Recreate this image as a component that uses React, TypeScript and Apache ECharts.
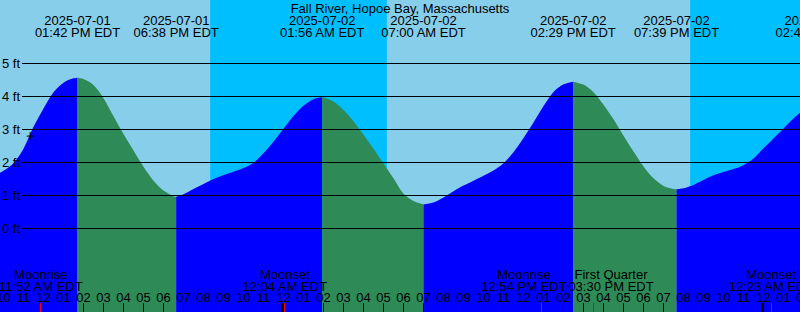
import React, { useEffect, useRef } from 'react';
import * as echarts from 'echarts';

const TITLE = 'Fall River, Hopoe Bay, Massachusetts';

// Tide curve (local time EDT, "MM-DD HH:MM"), heights in ft
const tideTimes = [
  '07-01 09:30', '07-01 10:00', '07-01 10:30', '07-01 11:00', '07-01 11:30', '07-01 12:00',
  '07-01 12:30', '07-01 13:00', '07-01 13:30', '07-01 13:42', '07-01 14:00', '07-01 14:30',
  '07-01 15:00', '07-01 15:30', '07-01 16:00', '07-01 16:30', '07-01 17:00', '07-01 17:30',
  '07-01 18:00', '07-01 18:30', '07-01 18:38', '07-01 19:00', '07-01 19:30', '07-01 20:00',
  '07-01 20:30', '07-01 21:00', '07-01 21:30', '07-01 22:00', '07-01 22:30', '07-01 23:00',
  '07-01 23:30', '07-02 00:00', '07-02 00:30', '07-02 01:00', '07-02 01:30', '07-02 01:56',
  '07-02 02:00', '07-02 02:30', '07-02 03:00', '07-02 03:30', '07-02 04:00', '07-02 04:30',
  '07-02 05:00', '07-02 05:30', '07-02 06:00', '07-02 06:30', '07-02 07:00', '07-02 07:30',
  '07-02 08:00', '07-02 08:30', '07-02 09:00', '07-02 09:30', '07-02 10:00', '07-02 10:30',
  '07-02 11:00', '07-02 11:30', '07-02 12:00', '07-02 12:30', '07-02 13:00', '07-02 13:30',
  '07-02 14:00', '07-02 14:29', '07-02 15:00', '07-02 15:30', '07-02 16:00', '07-02 16:30',
  '07-02 17:00', '07-02 17:30', '07-02 18:00', '07-02 18:30', '07-02 19:00', '07-02 19:30',
  '07-02 19:39', '07-02 20:00', '07-02 20:30', '07-02 21:00', '07-02 21:30', '07-02 22:00',
  '07-02 22:30', '07-02 23:00', '07-02 23:30', '07-03 00:00', '07-03 00:30', '07-03 01:00',
  '07-03 01:30', '07-03 02:00',
];
const tideHeights = [
  1.58, 1.75, 1.98, 2.42, 3.08, 3.64,
  4.13, 4.42, 4.55, 4.57, 4.53, 4.35,
  3.95, 3.40, 2.86, 2.36, 1.87, 1.45,
  1.15, 0.98, 0.96, 1.04, 1.20, 1.35,
  1.50, 1.62, 1.72, 1.83, 1.99, 2.28,
  2.63, 3.02, 3.41, 3.72, 3.92, 3.98,
  3.97, 3.85, 3.59, 3.25, 2.84, 2.42,
  1.97, 1.52, 1.05, 0.83, 0.73, 0.79,
  0.94, 1.13, 1.30, 1.45, 1.60, 1.76,
  1.98, 2.31, 2.74, 3.21, 3.71, 4.14,
  4.37, 4.45, 4.36, 4.13, 3.75, 3.31,
  2.81, 2.33, 1.88, 1.52, 1.29, 1.20,
  1.19, 1.22, 1.32, 1.47, 1.61, 1.71,
  1.80, 1.92, 2.12, 2.43, 2.73, 3.03,
  3.33, 3.60,
];

// High / low tide events
const tideEventAt = ['07-01 13:42', '07-01 18:38', '07-02 01:56', '07-02 07:00', '07-02 14:29', '07-02 19:39', '07-03 02:43'];
const tideEventDate = ['2025-07-01', '2025-07-01', '2025-07-02', '2025-07-02', '2025-07-02', '2025-07-02', '2025-07-03'];
const tideEventClock = ['01:42 PM EDT', '06:38 PM EDT', '01:56 AM EDT', '07:00 AM EDT', '02:29 PM EDT', '07:39 PM EDT', '02:43 AM EDT'];

// Night intervals (sunset -> sunrise)
const nightStart = ['07-01 20:20', '07-02 20:20'];
const nightEnd = ['07-02 05:10', '07-03 05:11'];

// Moon events
const moonAt = ['07-01 11:52', '07-02 00:04', '07-02 12:54', '07-02 15:30', '07-03 00:23'];
const moonName = ['Moonrise', 'Moonset', 'Moonrise', 'First Quarter', 'Moonset'];
const moonClock = ['11:52 AM EDT', '12:04 AM EDT', '12:54 PM EDT', '03:30 PM EDT', '12:23 AM EDT'];

// Day boundaries
const midnights = ['07-02 00:00', '07-03 00:00'];

// Hour ticks
const hourStart = '07-01 10:00';
const hourLabels = [
  '10', '11', '12', '01', '02', '03', '04', '05', '06', '07', '08', '09', '10', '11',
  '12', '01', '02', '03', '04', '05', '06', '07', '08', '09', '10', '11',
  '12', '01', '02', '03', '04', '05', '06', '07', '08', '09', '10', '11',
  '12', '01', '02',
];

// Gridlines (ft)
const gridFeet = [0, 1, 2, 3, 4, 5];

// Current time marker
const nowAt = '07-01 11:20';
const nowHeight = 2.8;

// View window
const X_MIN = 9.825;
const X_MAX = 49.825;
const Y_MAX = 228.5 / 33;
const Y_MIN = Y_MAX - 312 / 33;

const DAY = '#87CEEB';
const NIGHT = '#00BFFF';
const RISE = '#0000FF';
const FALL = '#2E8B57';
const FONT = '13px "Liberation Sans", Arial, sans-serif';
const MOON_LABEL_GAP = 87;

const toHours = (s: string) => {
  const [md, hm] = s.split(' ');
  const day = Number(md.split('-')[1]);
  const [h, m] = hm.split(':').map(Number);
  return (day - 1) * 24 + h + m / 60;
};

const txt = (text: string, x: number, y: number, align = 'center') => ({
  type: 'text',
  x,
  y,
  style: { text, font: FONT, fill: '#000', align, verticalAlign: 'middle' },
});

// push overlapping label centres apart so they keep a minimum gap
const spread = (xs: number[], gap: number) => {
  const out = xs.slice();
  for (let iter = 0; iter < 20; iter++) {
    let moved = false;
    for (let i = 0; i < out.length - 1; i++) {
      const d = out[i + 1] - out[i];
      if (d < gap) {
        const push = (gap - d) / 2;
        out[i] -= push;
        out[i + 1] += push;
        moved = true;
      }
    }
    if (!moved) break;
  }
  return out;
};

export default function App() {
  const ref = useRef<HTMLDivElement>(null);
  useEffect(() => {
    document.body.style.margin = '0';
    const chart = echarts.init(ref.current!, null, { renderer: 'svg' });

    const pts = tideTimes.map((t, i) => [toHours(t), tideHeights[i]]);
    const breaks = [0];
    tideEventAt.forEach((e) => {
      const idx = tideTimes.indexOf(e);
      if (idx > 0) breaks.push(idx);
    });
    breaks.push(pts.length - 1);
    const tideSeries: any[] = [];
    for (let s = 0; s < breaks.length - 1; s++) {
      const seg = pts.slice(breaks[s], breaks[s + 1] + 1);
      const rising = seg[seg.length - 1][1] > seg[0][1];
      tideSeries.push({
        type: 'line',
        data: seg,
        smooth: 0.3,
        showSymbol: false,
        silent: true,
        z: 2,
        lineStyle: { width: 0, opacity: 0 },
        areaStyle: { color: rising ? RISE : FALL, opacity: 1, origin: 'start' },
      });
    }

    const moonHours = moonAt.map(toHours);

    const option: any = {
      animation: false,
      backgroundColor: DAY,
      textStyle: { fontFamily: '"Liberation Sans", Arial, sans-serif' },
      grid: { left: 0, right: 0, top: 0, bottom: 0, show: true, backgroundColor: DAY, borderWidth: 0 },
      xAxis: { type: 'value', min: X_MIN, max: X_MAX, show: false },
      yAxis: { type: 'value', min: Y_MIN, max: Y_MAX, show: false },
      graphic: [
        {
          type: 'text',
          z: 100,
          x: 400,
          y: 8,
          style: { text: TITLE, font: FONT, fill: '#000', align: 'center', verticalAlign: 'middle' },
        },
      ],
      series: [
        {
          type: 'custom',
          z: 1,
          silent: true,
          clip: true,
          data: nightStart.map((s, i) => [toHours(s), toHours(nightEnd[i])]),
          renderItem: (params: any, api: any) => {
            const cs = params.coordSys;
            const x1 = api.coord([api.value(0), 0])[0];
            const x2 = api.coord([api.value(1), 0])[0];
            return { type: 'rect', shape: { x: x1, y: cs.y, width: x2 - x1, height: cs.height }, style: { fill: NIGHT } };
          },
        },
        ...tideSeries,
        {
          type: 'custom',
          z: 3,
          silent: true,
          data: gridFeet.map((v) => [X_MIN, v]),
          renderItem: (params: any, api: any) => {
            const cs = params.coordSys;
            const y = api.coord([X_MIN, api.value(1)])[1];
            return {
              type: 'group',
              children: [
                { type: 'line', shape: { x1: cs.x + 22, y1: y, x2: cs.x + cs.width, y2: y }, style: { stroke: '#000', lineWidth: 1 } },
                txt(`${gridFeet[params.dataIndex]} ft`, cs.x + 2, y, 'left'),
              ],
            };
          },
        },
        {
          type: 'custom',
          z: 4,
          silent: true,
          data: [[toHours(nowAt), nowHeight]],
          renderItem: (params: any, api: any) => {
            const p = api.coord([api.value(0), api.value(1)]);
            return {
              type: 'group',
              children: [
                { type: 'line', shape: { x1: p[0] - 3.5, y1: p[1], x2: p[0] + 3.5, y2: p[1] }, style: { stroke: '#000', lineWidth: 1 } },
                { type: 'line', shape: { x1: p[0], y1: p[1] - 4, x2: p[0], y2: p[1] + 4 }, style: { stroke: '#000', lineWidth: 1 } },
              ],
            };
          },
        },
        {
          type: 'custom',
          z: 5,
          silent: true,
          data: tideEventAt.map((t) => [toHours(t), 0]),
          renderItem: (params: any, api: any) => {
            const x = api.coord([api.value(0), 0])[0];
            const i = params.dataIndex;
            return {
              type: 'group',
              children: [txt(tideEventDate[i], x, 20), txt(tideEventClock[i], x, 32)],
            };
          },
        },
        {
          type: 'custom',
          z: 5,
          silent: true,
          data: hourLabels.map((_, i) => [toHours(hourStart) + i, 0]),
          renderItem: (params: any, api: any) => {
            const x = api.coord([api.value(0), 0])[0];
            return {
              type: 'group',
              children: [
                { type: 'line', shape: { x1: x, y1: 303, x2: x, y2: 312 }, style: { stroke: '#000', lineWidth: 1 } },
                txt(hourLabels[params.dataIndex], x, 297.5),
              ],
            };
          },
        },
        {
          type: 'custom',
          z: 6,
          silent: true,
          data: midnights.map((t) => [toHours(t), 0]),
          renderItem: (params: any, api: any) => {
            const x = api.coord([api.value(0), 0])[0];
            return { type: 'rect', shape: { x: x - 2.5, y: 303, width: 3, height: 9 }, style: { fill: '#000' } };
          },
        },
        {
          type: 'custom',
          z: 7,
          silent: true,
          data: moonHours.map((h) => [h, 0]),
          renderItem: (params: any, api: any) => {
            const xs = moonHours.map((h) => api.coord([h, 0])[0]);
            const lx = spread(xs, MOON_LABEL_GAP);
            const i = params.dataIndex;
            const x = xs[i];
            return {
              type: 'group',
              children: [
                { type: 'rect', shape: { x: Math.floor(x), y: 303, width: 1, height: 9 }, style: { fill: '#FF0000' } },
                txt(moonName[i], lx[i], 274),
                txt(moonClock[i], lx[i], 286),
              ],
            };
          },
        },
      ],
    };
    chart.setOption(option);
    return () => chart.dispose();
  }, []);
  return <div ref={ref} style={{ width: 800, height: 312, position: 'absolute', left: 0, top: 0 }} />;
}
